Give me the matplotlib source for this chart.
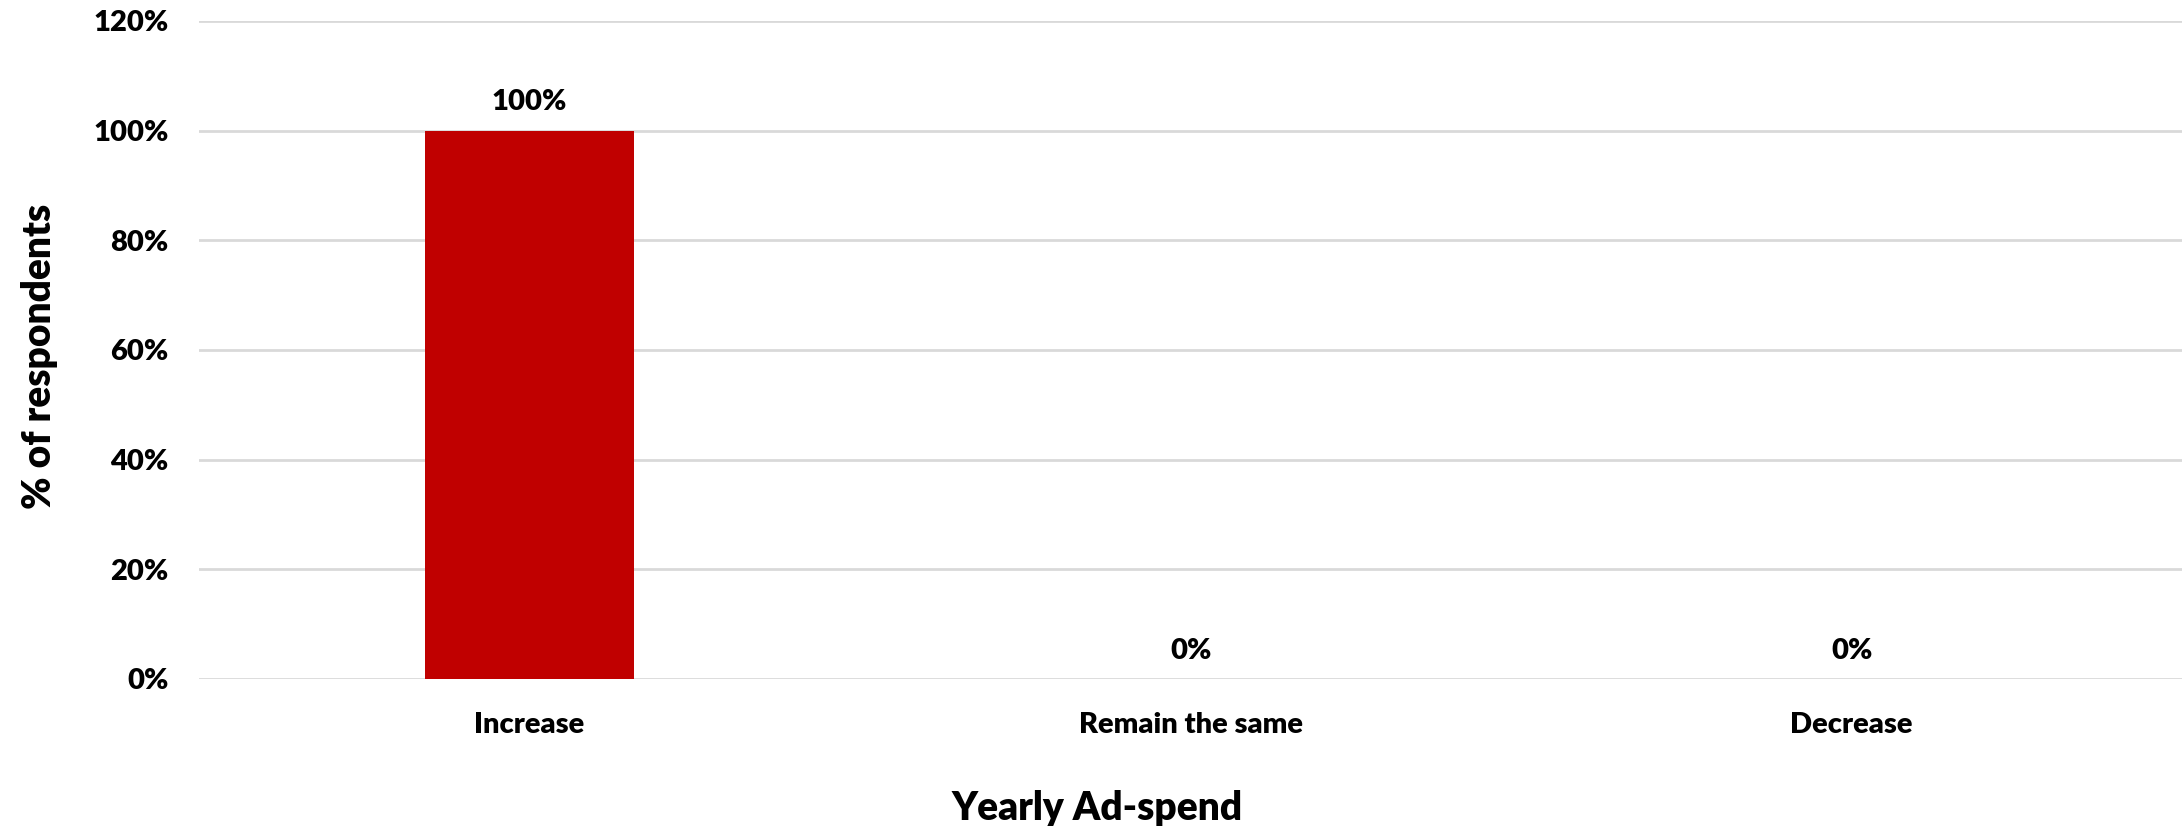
import matplotlib
matplotlib.use("Agg")
import matplotlib.pyplot as plt
from matplotlib.ticker import PercentFormatter

categories = ["Increase", "Remain the same", "Decrease"]
shares = [100, 0, 0]
y_ticks = [0, 20, 40, 60, 80, 100, 120]

plt.rcParams["font.family"] = ["Lato", "DejaVu Sans"]
WEIGHT = "heavy"

fig = plt.figure(figsize=(21.83, 8.26), dpi=100)
ax = fig.add_axes([0.0912, 0.178, 0.9084, 0.7966])

x = range(len(categories))
ax.bar(x, shares, width=0.315, color="#c00000", zorder=3)

for xi, v in zip(x, shares):
    ax.annotate(f"{v:.0f}%", (xi, v), xytext=(0, 11), textcoords="offset points",
                ha="center", va="bottom", fontsize=21, fontweight=WEIGHT, color="black")

ax.set_xlim(-0.5, len(categories) - 0.5)
ax.set_ylim(0, 120)
ax.set_yticks(y_ticks)
ax.yaxis.set_major_formatter(PercentFormatter(decimals=0))
ax.set_xticks(list(x))
ax.set_xticklabels(categories)
ax.tick_params(axis="both", length=0, labelsize=21)
ax.tick_params(axis="y", pad=22)
ax.tick_params(axis="x", pad=24)
for lbl in ax.get_xticklabels() + ax.get_yticklabels():
    lbl.set_fontweight(WEIGHT)

ax.grid(axis="y", color="#d9d9d9", linewidth=2, zorder=0)
ax.set_axisbelow(True)
for s in ax.spines.values():
    s.set_visible(False)

ax.set_xlabel("Yearly Ad-spend", fontsize=28, fontweight=WEIGHT)
ax.xaxis.set_label_coords(0.453, -0.169)
ax.set_ylabel("% of respondents", fontsize=28, fontweight=WEIGHT)
ax.yaxis.set_label_coords(-0.071, 0.49)

fig.savefig("out.png", dpi=100, facecolor="white")
